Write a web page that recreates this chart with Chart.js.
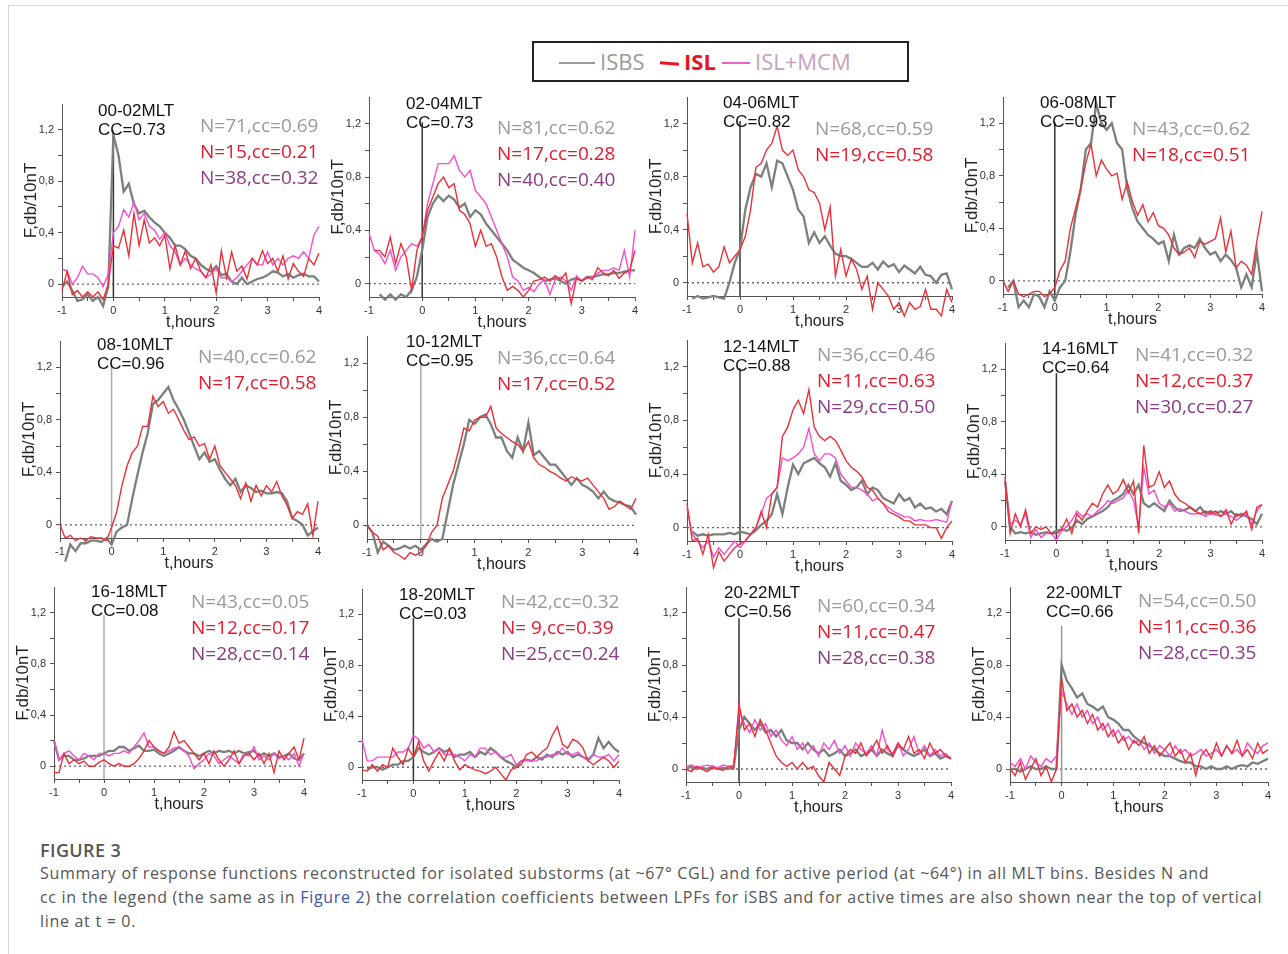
<!DOCTYPE html>
<html>
<head>
<meta charset="utf-8">
<script src="https://cdn.jsdelivr.net/npm/chart.js@4.4.1/dist/chart.umd.min.js"></script>
<style>
body { margin: 0; background: #fff; }
#page { position: relative; width: 1288px; height: 954px; overflow: hidden; background: #fff; font-family: "Liberation Sans", Arial, sans-serif; }
#frame { position: absolute; left: 8px; top: 5px; width: 1300px; height: 1000px; border: 1px solid #d4d4d4; }
.pc { position: absolute; }
.lbl { position: absolute; white-space: nowrap; transform: translateY(-50%); line-height: 1; }
.mlt { font-size: 17px; color: #111; }
.nt { font-family: "Open Sans", sans-serif; font-size: 19px; }
#legend { position: absolute; left: 532px; top: 41px; width: 373px; height: 37px; border: 2px solid #222; }
.lg { position: absolute; font-family: "Open Sans", sans-serif; font-size: 22px; top: 50%; transform: translateY(-52%); white-space: nowrap; }
.lgl { position: absolute; top: 50%; }
#fig { position: absolute; left: 40px; top: 838px; font-family: "Open Sans", sans-serif; font-size: 18px; letter-spacing: 0.4px; font-weight: 600; color: #555; }
.cap { position: absolute; left: 40px; font-family: "Open Sans", sans-serif; font-size: 16px; letter-spacing: 0.7px; color: #555; white-space: nowrap; }
.cap a { color: #3b55a6; text-decoration: none; }
</style>
</head>
<body>
<div id="page">
  <div id="frame"></div>
  <div id="legend">
    <div class="lgl" style="left:25px;width:36px;height:2px;background:#9a9a9a;"></div>
    <div class="lg" style="left:66px;color:#9a9a9a;">ISBS</div>
    <div class="lgl" style="left:126px;width:19px;height:3px;background:#e8141e;transform:rotate(4deg);"></div>
    <div class="lg" style="left:150px;color:#e8141e;font-weight:700;">ISL</div>
    <div class="lgl" style="left:188px;width:28px;height:2px;background:#f060c8;"></div>
    <div class="lg" style="left:221px;color:#c8a0bc;">ISL+MCM</div>
  </div>
  <div id="fig">FIGURE 3</div>
  <div class="cap" style="top:862px;">Summary of response functions reconstructed for isolated substorms (at ~67° CGL) and for active period (at ~64°) in all MLT bins. Besides N and</div>
  <div class="cap" style="top:886px;">cc in the legend (the same as in <a>Figure 2</a>) the correlation coefficients between LPFs for iSBS and for active times are also shown near the top of vertical</div>
  <div class="cap" style="top:910px;">line at t = 0.</div>
</div>
<script>
// time axis, hours
const tHours = [
  -1.0,-0.9,-0.8,-0.7,-0.6,-0.5,-0.4,-0.3,-0.2,-0.1,
  0.0,0.1,0.2,0.3,0.4,0.5,0.6,0.7,0.8,0.9,
  1.0,1.1,1.2,1.3,1.4,1.5,1.6,1.7,1.8,1.9,
  2.0,2.1,2.2,2.3,2.4,2.5,2.6,2.7,2.8,2.9,
  3.0,3.1,3.2,3.3,3.4,3.5,3.6,3.7,3.8,3.9,
  4.0]
const xTickVals = [-1,-0.5,0,0.5,1,1.5,2,2.5,3,3.5,4]
const yTickVals = [0,0.2,0.4,0.6,0.8,1.0,1.2]
const yMajor = [0,0.4,0.8,1.2]

// 00-02 MLT
const isbs0002 = [
  -0.02,0.02,-0.05,-0.13,-0.12,-0.08,-0.13,-0.10,-0.17,-0.02,
  1.16,1.00,0.72,0.78,0.62,0.55,0.57,0.52,0.48,0.45,
  0.40,0.36,0.30,0.30,0.27,0.22,0.20,0.15,0.12,0.10,
  0.14,0.07,0.08,0.02,0.00,0.05,0.00,0.02,0.04,0.05,
  0.07,0.10,0.09,0.06,0.08,0.05,0.07,0.08,0.06,0.06,
  0.02]
const isl0002 = [
  -0.05,0.10,-0.08,-0.05,-0.10,-0.06,-0.10,-0.06,-0.12,0.00,
  0.30,0.28,0.42,0.22,0.55,0.30,0.50,0.32,0.36,0.30,
  0.38,0.12,0.30,0.15,0.26,0.12,0.20,0.10,0.05,0.15,
  -0.07,0.26,0.05,0.25,0.10,0.14,0.04,0.20,0.15,0.26,
  0.16,0.20,0.10,0.22,0.04,0.16,0.10,0.06,0.20,0.15,
  0.24]
const mcm0002 = [
  0.12,0.10,0.00,0.05,0.14,0.08,0.08,0.05,-0.02,0.08,
  0.40,0.45,0.58,0.52,0.64,0.50,0.55,0.45,0.42,0.35,
  0.40,0.30,0.25,0.15,0.20,0.15,0.12,0.10,0.05,0.08,
  0.12,0.05,0.05,0.02,0.05,0.10,0.15,0.20,0.15,0.15,
  0.25,0.15,0.20,0.15,0.20,0.22,0.20,0.25,0.20,0.38,
  0.45]

// 02-04 MLT
const isbs0204 = [
  null,null,-0.08,-0.12,-0.08,-0.12,-0.08,-0.10,-0.05,0.05,
  0.25,0.50,0.60,0.66,0.62,0.66,0.63,0.57,0.60,0.50,
  0.55,0.52,0.45,0.40,0.35,0.30,0.25,0.18,0.15,0.12,
  0.10,0.08,0.05,0.02,0.03,0.04,0.02,0.00,0.03,0.04,
  0.02,0.05,0.05,0.06,0.07,0.07,0.08,0.08,0.09,0.10,
  0.10]
const isl0204 = [
  null,0.25,0.25,0.20,0.35,0.15,0.30,0.20,-0.05,0.25,
  0.35,0.55,0.65,0.75,0.80,0.72,0.75,0.55,0.52,0.45,
  0.28,0.40,0.28,0.30,0.20,0.05,-0.05,-0.02,-0.05,-0.10,
  -0.05,0.02,0.03,0.05,0.02,0.06,0.03,0.08,-0.15,0.04,
  0.02,0.05,0.03,0.12,0.08,0.06,0.10,0.04,0.08,0.10,
  0.25]
const mcm0204 = [
  0.38,0.25,0.22,0.15,0.25,0.10,0.20,0.25,0.30,0.28,
  0.35,0.60,0.75,0.90,0.90,0.90,0.96,0.85,0.80,0.85,
  0.70,0.65,0.60,0.50,0.40,0.30,0.20,0.05,0.02,-0.05,
  -0.03,-0.06,0.00,0.03,-0.08,0.03,0.05,0.02,-0.05,0.06,
  0.02,0.04,0.05,0.08,0.10,0.10,0.12,0.10,0.25,0.05,
  0.40]

// 04-06 MLT
const isbs0406 = [
  null,-0.12,-0.10,-0.12,-0.11,-0.10,-0.11,-0.12,0.00,0.15,
  0.25,0.55,0.72,0.82,0.80,0.90,0.72,0.92,0.90,0.80,
  0.70,0.55,0.50,0.30,0.38,0.30,0.35,0.28,0.22,0.20,
  0.20,0.18,0.15,0.12,0.12,0.15,0.10,0.16,0.12,0.14,
  0.08,0.13,0.10,0.07,0.12,0.06,0.05,0.00,0.06,0.07,
  -0.05]
const isl0406 = [
  0.52,0.15,0.30,0.12,0.14,0.08,0.12,0.27,0.15,0.20,
  0.25,0.35,0.55,0.87,0.90,1.00,1.05,1.18,1.00,0.96,
  1.00,0.85,0.80,0.70,0.68,0.60,0.40,0.57,0.05,0.25,
  0.05,0.18,0.10,-0.05,0.05,-0.20,0.00,-0.05,-0.10,-0.20,
  -0.15,-0.25,-0.15,-0.20,-0.18,-0.05,-0.20,-0.20,-0.25,-0.05,
  -0.15]

// 06-08 MLT
const isbs0608 = [
  null,-0.05,0.00,-0.20,-0.15,-0.20,-0.10,-0.12,-0.20,-0.08,
  -0.15,-0.05,0.00,0.22,0.50,0.70,1.00,1.05,1.35,1.20,
  1.15,1.20,1.05,1.00,0.70,0.55,0.45,0.40,0.35,0.32,
  0.28,0.30,0.15,0.35,0.20,0.25,0.27,0.25,0.32,0.25,
  0.20,0.22,0.15,0.20,0.16,0.10,-0.05,0.05,-0.05,0.22,
  -0.08]
const isl0608 = [
  0.00,-0.08,0.00,-0.10,-0.12,-0.10,-0.08,-0.08,-0.12,-0.10,
  -0.05,0.08,0.15,0.40,0.55,0.70,0.90,1.04,0.80,0.92,
  0.85,0.80,0.82,0.62,0.75,0.60,0.50,0.58,0.45,0.52,
  0.42,0.40,0.35,0.25,0.20,0.22,0.25,0.18,0.30,0.28,
  0.30,0.32,0.48,0.22,0.38,0.10,0.15,0.12,0.05,0.30,
  0.53]

// 08-10 MLT
const isbs0810 = [
  null,-0.28,-0.15,-0.20,-0.14,-0.14,-0.12,-0.12,-0.13,-0.10,
  -0.15,-0.05,-0.02,0.00,0.20,0.38,0.55,0.70,0.92,0.95,
  1.00,1.05,0.95,0.88,0.80,0.70,0.60,0.50,0.55,0.48,
  0.50,0.42,0.35,0.30,0.35,0.25,0.30,0.28,0.25,0.26,
  0.24,0.24,0.25,0.24,0.18,0.05,0.03,0.00,-0.08,-0.05,
  -0.02]
const isl0810 = [
  0.00,-0.10,-0.08,-0.12,-0.10,-0.12,-0.09,-0.10,-0.10,-0.12,
  -0.02,0.10,0.30,0.45,0.55,0.60,0.75,0.75,0.98,0.90,
  0.94,0.85,0.88,0.80,0.72,0.65,0.67,0.60,0.62,0.50,
  0.60,0.45,0.40,0.35,0.30,0.20,0.32,0.18,0.30,0.22,
  0.30,0.25,0.33,0.22,0.15,0.05,0.10,0.08,0.16,-0.08,
  0.18]

// 10-12 MLT
const isbs1012 = [
  0.00,-0.05,-0.20,-0.12,-0.15,-0.18,-0.17,-0.15,-0.17,-0.15,
  -0.18,-0.14,-0.10,-0.12,-0.10,0.10,0.30,0.45,0.60,0.78,
  0.75,0.80,0.82,0.75,0.65,0.65,0.55,0.50,0.65,0.55,
  0.76,0.52,0.55,0.50,0.45,0.45,0.40,0.35,0.30,0.35,
  0.30,0.28,0.25,0.20,0.25,0.20,0.18,0.17,0.15,0.14,
  0.08]
const isl1012 = [
  0.00,-0.05,-0.08,-0.18,-0.15,-0.20,-0.22,-0.25,-0.20,-0.22,
  -0.20,-0.15,-0.05,0.00,0.20,0.30,0.40,0.55,0.72,0.70,
  0.78,0.80,0.80,0.88,0.72,0.68,0.65,0.62,0.60,0.55,
  0.62,0.50,0.45,0.43,0.40,0.38,0.35,0.33,0.36,0.34,
  0.33,0.35,0.30,0.25,0.20,0.12,0.14,0.18,0.15,0.12,
  0.20]

// 12-14 MLT
const isbs1214 = [
  null,-0.03,-0.06,-0.05,-0.06,-0.05,-0.05,-0.05,-0.04,-0.05,
  -0.03,-0.04,-0.05,-0.02,0.02,0.05,0.10,0.25,0.10,0.30,
  0.47,0.40,0.48,0.50,0.52,0.48,0.45,0.38,0.48,0.35,
  0.32,0.28,0.30,0.35,0.25,0.30,0.28,0.22,0.20,0.18,
  0.25,0.20,0.22,0.15,0.18,0.14,0.15,0.12,0.14,0.10,
  0.20]
const isl1214 = [
  0.18,-0.10,-0.08,-0.20,-0.05,-0.30,-0.18,-0.25,-0.20,-0.15,
  -0.12,-0.10,-0.05,0.00,0.12,0.00,0.25,0.30,0.68,0.75,
  0.88,0.95,0.85,1.03,0.75,0.68,0.65,0.68,0.65,0.58,
  0.50,0.45,0.42,0.38,0.30,0.28,0.22,0.18,0.12,0.10,
  0.08,0.05,0.05,0.02,0.02,0.02,0.00,0.00,-0.08,0.00,
  0.05]
const mcm1214 = [
  0.15,-0.05,-0.10,-0.15,-0.10,-0.22,-0.15,-0.20,-0.15,-0.10,
  -0.15,-0.10,-0.05,0.00,0.10,0.22,0.25,0.30,0.52,0.50,
  0.52,0.55,0.60,0.74,0.55,0.50,0.55,0.55,0.52,0.40,
  0.35,0.30,0.30,0.28,0.25,0.20,0.22,0.18,0.15,0.12,
  0.10,0.08,0.08,0.05,0.06,0.05,0.05,0.06,0.05,0.04,
  0.20]

// 14-16 MLT
const isbs1416 = [
  0.35,0.00,-0.05,-0.04,-0.05,-0.04,-0.06,-0.05,-0.04,-0.05,
  -0.03,-0.02,-0.03,-0.01,0.05,0.02,0.06,0.08,0.10,0.12,
  0.15,0.20,0.22,0.25,0.32,0.25,0.32,0.18,0.15,0.18,
  0.15,0.12,0.20,0.15,0.12,0.13,0.15,0.12,0.15,0.10,
  0.12,0.10,0.12,0.10,0.12,0.08,0.10,0.08,0.06,0.02,
  0.10]
const isl1416 = [
  0.38,-0.05,0.10,0.00,0.13,-0.05,0.00,-0.02,0.00,-0.05,
  -0.05,-0.02,0.06,-0.05,0.10,0.05,0.12,0.18,0.15,0.25,
  0.32,0.25,0.28,0.36,0.26,0.35,-0.05,0.62,0.30,0.32,
  0.42,0.30,0.35,0.25,0.20,0.18,0.15,0.12,0.10,0.12,
  0.10,0.12,0.08,0.13,0.02,0.10,0.08,0.12,-0.02,0.15,
  0.17]
const mcm1416 = [
  0.35,0.02,0.05,0.02,0.10,-0.08,-0.02,-0.08,-0.05,-0.05,
  -0.10,-0.03,0.00,0.05,0.12,0.08,0.10,0.08,0.12,0.15,
  0.20,0.18,0.20,0.22,0.28,0.20,0.00,0.45,0.25,0.28,
  0.18,0.15,0.18,0.12,0.14,0.12,0.10,0.10,0.10,0.08,
  0.10,0.09,0.08,0.10,0.08,0.05,0.08,0.10,0.02,0.12,
  0.17]

// 16-18 MLT
const isbs1618 = [
  0.20,0.05,0.08,0.08,0.05,0.05,0.06,0.08,0.08,0.08,
  0.10,0.12,0.12,0.15,0.15,0.12,0.14,0.16,0.12,0.12,
  0.13,0.10,0.08,0.10,0.12,0.15,0.12,0.10,0.10,0.08,
  0.10,0.12,0.10,0.12,0.11,0.12,0.10,0.12,0.10,0.11,
  0.12,0.08,0.10,0.08,0.10,0.07,0.08,0.10,0.06,0.05,
  0.10]
const isl1618 = [
  -0.05,-0.05,0.10,0.02,0.05,0.02,0.04,0.00,0.00,0.03,
  0.05,0.02,0.00,0.02,0.00,0.00,0.02,0.06,0.12,0.20,
  0.15,0.12,0.10,0.15,0.27,0.18,0.20,0.15,0.10,0.05,
  0.10,0.02,0.12,0.05,0.00,0.05,0.12,0.02,0.08,0.10,
  0.05,0.10,0.02,0.10,-0.05,0.12,0.05,0.10,0.15,0.05,
  0.22]
const mcm1618 = [
  0.20,0.05,0.10,0.12,0.08,0.05,0.10,0.08,0.05,0.10,
  0.10,0.08,0.10,0.10,0.12,0.10,0.15,0.20,0.26,0.15,
  0.15,0.12,0.10,0.12,0.14,0.15,0.12,0.08,-0.02,0.02,
  0.05,0.10,0.08,0.02,0.05,0.08,0.05,0.02,0.10,0.08,
  0.15,0.05,0.08,0.05,0.10,0.06,0.08,0.05,0.10,0.00,
  0.10]

// 18-20 MLT
const isbs1820 = [
  null,-0.02,0.00,0.00,-0.02,0.00,0.02,0.02,0.05,0.05,
  0.08,0.15,0.12,0.10,0.12,0.15,0.12,0.14,0.08,0.10,
  0.10,0.12,0.08,0.12,0.10,0.15,0.12,0.08,0.05,0.03,
  0.00,0.05,0.06,0.05,0.08,0.06,0.10,0.08,0.12,0.10,
  0.12,0.08,0.10,0.08,0.06,0.10,0.23,0.15,0.20,0.15,
  0.12]
const isl1820 = [
  -0.02,-0.03,0.02,-0.03,0.02,0.00,0.15,0.08,0.02,0.15,
  0.08,0.20,0.05,-0.03,0.05,0.12,0.05,0.15,0.05,-0.02,
  0.02,0.00,-0.02,-0.03,-0.05,-0.03,0.00,-0.05,-0.10,-0.02,
  0.00,0.02,0.10,0.12,0.08,0.12,0.15,0.25,0.32,0.18,
  0.15,0.22,0.20,0.15,0.05,0.02,0.05,0.08,0.05,0.00,
  0.05]
const mcm1820 = [
  0.22,0.05,0.05,0.08,0.08,0.08,0.08,0.12,0.12,0.15,
  0.25,0.22,0.15,0.18,0.12,0.15,0.10,0.10,0.10,0.08,
  0.05,0.10,0.08,0.15,0.15,0.10,0.12,0.08,0.08,0.10,
  0.02,0.05,0.05,0.05,0.05,0.08,0.08,0.10,0.10,0.15,
  0.10,0.10,0.12,0.08,0.05,0.10,0.08,0.08,0.10,0.05,
  0.10]

// 20-22 MLT
const isbs2022 = [
  0.00,0.02,0.00,0.01,0.00,0.02,0.00,0.01,0.00,0.02,
  0.30,0.40,0.35,0.30,0.35,0.28,0.30,0.25,0.30,0.22,
  0.20,0.20,0.15,0.20,0.15,0.12,0.15,0.10,0.12,0.15,
  0.10,0.12,0.15,0.10,0.12,0.15,0.10,0.15,0.12,0.10,
  0.18,0.15,0.12,0.10,0.12,0.15,0.10,0.12,0.08,0.10,
  0.08]
const isl2022 = [
  0.00,-0.02,0.02,0.00,-0.02,0.01,0.00,-0.01,0.02,0.00,
  0.50,0.30,0.35,0.25,0.38,0.30,0.20,0.10,0.05,0.02,
  0.05,0.00,0.05,0.00,0.02,-0.05,-0.10,0.05,0.00,-0.05,
  0.10,0.15,0.12,0.20,0.10,0.15,0.22,0.12,0.18,0.10,
  0.20,0.15,0.25,0.12,0.15,0.08,0.20,0.12,0.15,0.10,
  0.08]
const mcm2022 = [
  0.02,0.03,0.01,0.02,0.03,0.02,0.01,0.03,0.02,0.03,
  0.45,0.35,0.28,0.38,0.30,0.35,0.25,0.30,0.22,0.18,
  0.25,0.15,0.20,0.12,0.18,0.10,0.20,0.15,0.22,0.12,
  0.18,0.10,0.20,0.15,0.12,0.18,0.10,0.30,0.15,0.12,
  0.20,0.10,0.15,0.25,0.12,0.18,0.10,0.15,0.10,0.12,
  0.08]

// 22-00 MLT
const isbs2200 = [
  0.00,0.00,-0.02,0.00,0.02,0.00,0.00,0.02,0.00,0.00,
  0.80,0.68,0.62,0.55,0.58,0.50,0.48,0.45,0.48,0.40,
  0.38,0.35,0.30,0.30,0.25,0.22,0.20,0.18,0.15,0.12,
  0.10,0.10,0.08,0.06,0.05,0.05,0.02,0.02,0.00,0.02,
  0.00,0.00,0.02,0.00,0.02,0.03,0.02,0.05,0.04,0.06,
  0.08]
const isl2200 = [
  0.00,-0.05,0.05,-0.08,0.00,0.08,-0.05,0.02,-0.10,0.00,
  0.70,0.45,0.50,0.40,0.45,0.35,0.42,0.30,0.35,0.25,
  0.30,0.20,0.25,0.15,0.22,0.18,0.25,0.12,0.18,0.10,
  0.15,0.20,0.10,0.15,0.05,0.12,-0.05,0.10,0.15,0.08,
  0.20,0.10,0.18,0.12,0.22,0.10,0.15,0.08,0.20,0.12,
  0.15]
const mcm2200 = [
  0.05,0.02,0.08,0.00,0.10,0.05,0.02,0.08,0.05,0.10,
  0.60,0.50,0.42,0.50,0.40,0.45,0.35,0.40,0.30,0.35,
  0.25,0.30,0.22,0.25,0.20,0.22,0.15,0.20,0.12,0.18,
  0.15,0.10,0.18,0.12,0.15,0.10,0.12,0.15,0.10,0.12,
  0.15,0.10,0.18,0.12,0.15,0.10,0.20,0.15,0.12,0.18,
  0.20]

const mltLabels = ['00-02MLT','02-04MLT','04-06MLT','06-08MLT','08-10MLT','10-12MLT',
  '12-14MLT','14-16MLT','16-18MLT','18-20MLT','20-22MLT','22-00MLT']
const ccLabels = ['CC=0.73','CC=0.73','CC=0.82','CC=0.93','CC=0.96','CC=0.95',
  'CC=0.88','CC=0.64','CC=0.08','CC=0.03','CC=0.56','CC=0.66']
const nLabels = [
  ['N=71,cc=0.69','N=15,cc=0.21','N=38,cc=0.32'],
  ['N=81,cc=0.62','N=17,cc=0.28','N=40,cc=0.40'],
  ['N=68,cc=0.59','N=19,cc=0.58'],
  ['N=43,cc=0.62','N=18,cc=0.51'],
  ['N=40,cc=0.62','N=17,cc=0.58'],
  ['N=36,cc=0.64','N=17,cc=0.52'],
  ['N=36,cc=0.46','N=11,cc=0.63','N=29,cc=0.50'],
  ['N=41,cc=0.32','N=12,cc=0.37','N=30,cc=0.27'],
  ['N=43,cc=0.05','N=12,cc=0.17','N=28,cc=0.14'],
  ['N=42,cc=0.32','N= 9,cc=0.39','N=25,cc=0.24'],
  ['N=60,cc=0.34','N=11,cc=0.47','N=28,cc=0.38'],
  ['N=54,cc=0.50','N=11,cc=0.36','N=28,cc=0.35']
]
const isbsSeries = [isbs0002,isbs0204,isbs0406,isbs0608,isbs0810,isbs1012,isbs1214,isbs1416,isbs1618,isbs1820,isbs2022,isbs2200]
const islSeries = [isl0002,isl0204,isl0406,isl0608,isl0810,isl1012,isl1214,isl1416,isl1618,isl1820,isl2022,isl2200]
const mcmSeries = [mcm0002,mcm0204,null,null,null,null,mcm1214,mcm1416,mcm1618,mcm1820,mcm2022,mcm2200]

// page geometry of each panel: pixel of x=-1, x=4, y=0, y=1.2
const boxes = [
  [61.5,318.3,283.3,129.3],[369.3,635,283.3,123.3],[686.7,951.7,283.3,124],[1002.7,1261.7,280.7,123.3],
  [60,318.3,525,367.3],[367.3,636.7,526,363.3],[686.7,951.7,527.7,366.7],[1005,1261.7,527.3,369.3],
  [54,304,765.7,612.3],[362.3,619.3,766.7,614.3],[686,951,769,613],[1010,1268,769,613]
]
// text anchors: [mlt x, mlt y, N x, N y]
const textPos = [
  [98,110,200,125],[406,103,497,127],[723,102,815,128],[1040,102,1132,128],
  [97,344,198,356],[406,341,497,357],[723,346,817,354],[1042,348,1135,354],
  [91,591,191,601],[399,594,501,601],[724,592,817,605],[1046,592,1138,600]
]
const vTop = [1.17,1.21,1.22,1.21,1.23,1.2,1.19,1.17,1.18,1.17,1.16,1.1]
const vColor = ['#333','#333','#333','#333','#aaa','#aaa','#333','#333','#aaa','#333','#333','#999']
const nColors = ['#9a9a9a','#e8182a','#8c3a84']

const refLines = {
  id: 'refLines',
  beforeDatasetsDraw(chart, args, opts) {
    const {ctx, scales: {x, y}} = chart
    ctx.save()
    ctx.setLineDash([2, 3])
    ctx.strokeStyle = '#666'
    ctx.lineWidth = 1.3
    ctx.beginPath()
    ctx.moveTo(x.getPixelForValue(-1), y.getPixelForValue(0))
    ctx.lineTo(x.getPixelForValue(4), y.getPixelForValue(0))
    ctx.stroke()
    ctx.setLineDash([])
    ctx.strokeStyle = opts.color
    ctx.lineWidth = 1.5
    ctx.beginPath()
    ctx.moveTo(x.getPixelForValue(0), y.getPixelForValue(-0.1))
    ctx.lineTo(x.getPixelForValue(0), y.getPixelForValue(opts.top))
    ctx.stroke()
    ctx.restore()
  }
}

const page = document.getElementById('page')
const L = 52, R = 12, T = 12, B = 35
const tickFont = {family: '"Liberation Sans", Arial, sans-serif', size: 11}

function fmtY(v) {
  if (!yMajor.some(m => Math.abs(m - v) < 1e-6)) return ''
  return v === 0 ? '0' : v.toFixed(1).replace('.', ',')
}

function addText(cls, text, x, y, color) {
  const d = document.createElement('div')
  d.className = 'lbl ' + cls
  d.textContent = text
  d.style.left = x + 'px'
  d.style.top = y + 'px'
  if (color) d.style.color = color
  page.appendChild(d)
}

boxes.forEach((b, i) => {
  const [x0, x1, y0, y12] = b
  const unit = (y0 - y12) / 1.2
  const top = y0 - 1.4 * unit
  const areaH = Math.round(1.5 * unit)
  const areaW = Math.round(x1 - x0)
  const cv = document.createElement('canvas')
  cv.className = 'pc'
  cv.width = areaW + L + R
  cv.height = areaH + T + B
  cv.style.left = Math.round(x0 - L) + 'px'
  cv.style.top = Math.round(top - T) + 'px'
  page.appendChild(cv)

  const toPts = arr => tHours.map((t, k) => ({x: t, y: arr[k]}))
  const datasets = [
    {label: 'ISL', data: toPts(islSeries[i]), borderColor: 'rgb(236,48,56)', borderWidth: 1.4, order: 1},
    {label: 'ISBS', data: toPts(isbsSeries[i]), borderColor: 'rgb(122,128,124)', borderWidth: 2.3, order: 3}
  ]
  if (mcmSeries[i]) {
    datasets.push({label: 'ISL+MCM', data: toPts(mcmSeries[i]), borderColor: 'rgb(246,78,206)', borderWidth: 1.4, order: 2})
  }

  new Chart(cv, {
    type: 'line',
    data: {datasets},
    plugins: [refLines],
    options: {
      responsive: false,
      animation: false,
      devicePixelRatio: 1,
      layout: {padding: {left: 0, right: R, top: T, bottom: 0}},
      elements: {point: {radius: 0}, line: {tension: 0}},
      datasets: {line: {clip: false, spanGaps: false}},
      plugins: {
        legend: {display: false},
        tooltip: {enabled: false},
        refLines: {color: vColor[i], top: vTop[i]}
      },
      scales: {
        x: {
          type: 'linear', min: -1, max: 4,
          afterFit: s => { s.height = B },
          afterBuildTicks: s => { s.ticks = xTickVals.map(v => ({value: v})) },
          ticks: {font: tickFont, color: '#333', padding: 3, maxRotation: 0, autoSkip: false,
            callback: v => Number.isInteger(v) ? String(v) : ''},
          grid: {display: true, drawOnChartArea: false, drawTicks: true, tickLength: 4, color: '#555'},
          border: {display: true, color: '#555', width: 1},
          title: {display: true, text: 't,hours', color: '#222', padding: 0,
            font: {family: '"Liberation Sans", Arial, sans-serif', size: 16}}
        },
        y: {
          min: -0.1, max: 1.4,
          afterFit: s => { s.width = L },
          afterBuildTicks: s => { s.ticks = yTickVals.map(v => ({value: v})) },
          ticks: {font: tickFont, color: '#333', padding: 4, autoSkip: false, callback: fmtY},
          grid: {display: true, drawOnChartArea: false, drawTicks: true, tickLength: 4, color: '#555'},
          border: {display: true, color: '#555', width: 1},
          title: {display: true, text: 'F,db/10nT', color: '#222', padding: {top: 11, bottom: 0},
            font: {family: '"Liberation Sans", Arial, sans-serif', size: 17}}
        }
      }
    }
  })

  const [mx, my, nx, ny] = textPos[i]
  addText('mlt', mltLabels[i], mx, my)
  addText('mlt', ccLabels[i], mx, my + 19)
  nLabels[i].forEach((s, k) => addText('nt', s, nx, ny + 26 * k, nColors[k]))
})
</script>
</body>
</html>
